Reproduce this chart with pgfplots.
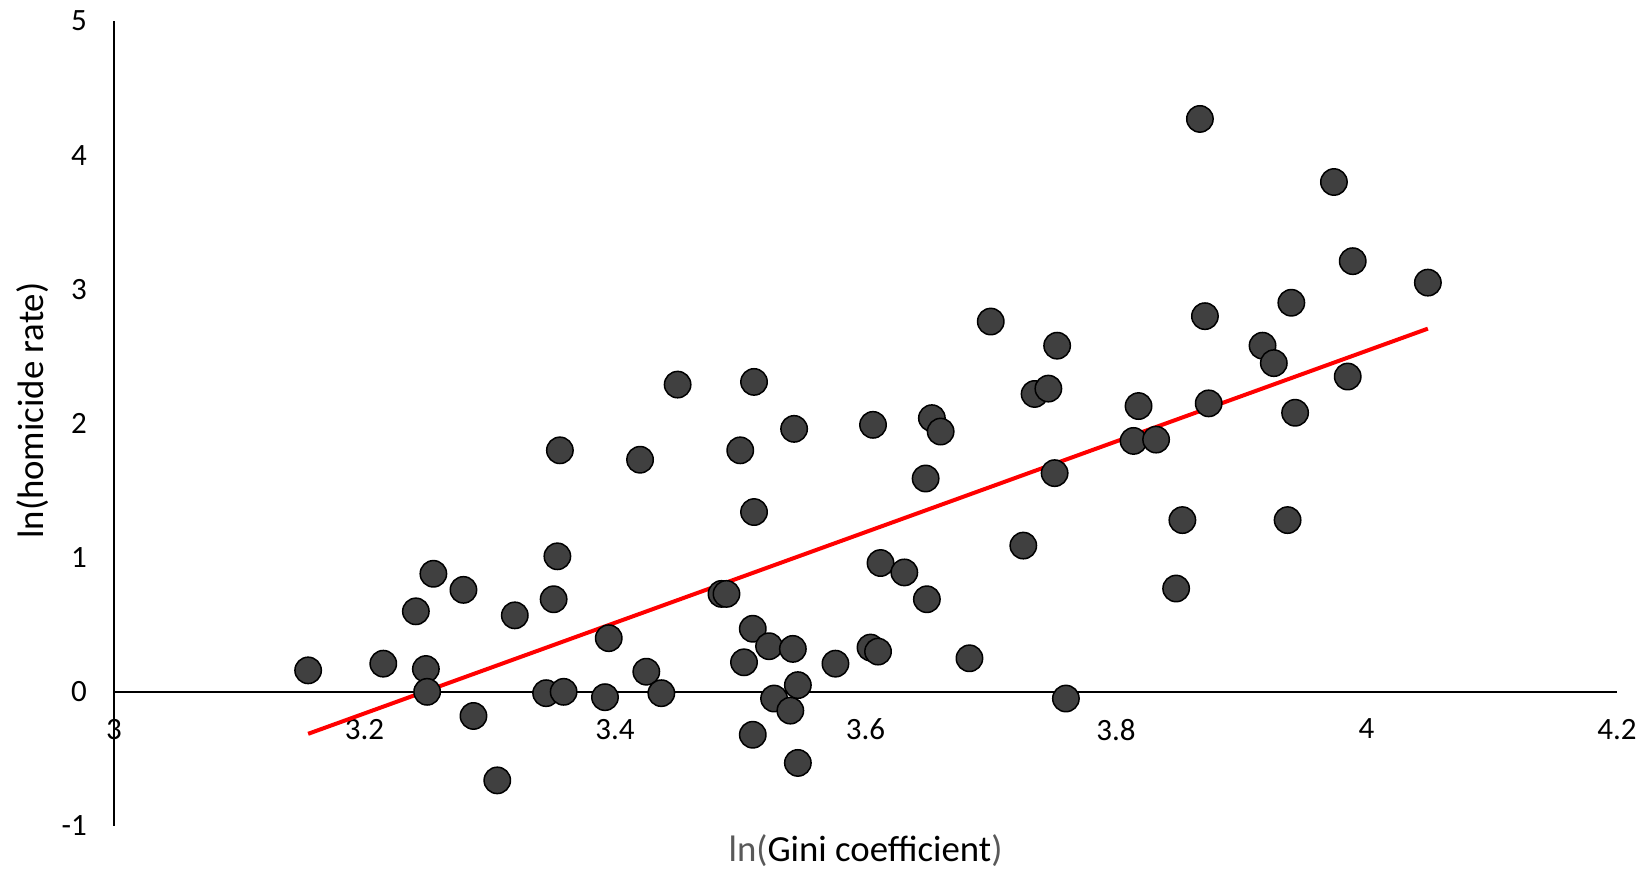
\documentclass[border=0pt]{standalone}
\usepackage{pgfplots}
\pgfplotsset{compat=1.18}
\usepackage{fontspec}
\setmainfont{Carlito}
\definecolor{dotfill}{HTML}{404040}
\definecolor{lblgrey}{HTML}{595959}
\begin{document}
\begin{tikzpicture}
\begin{axis}[
  at={(0,0)}, anchor=south west,
  scale only axis,
  width=751.5pt, height=402.5pt,
  xmin=3, xmax=4.2, ymin=-1, ymax=5,
  axis x line=middle, axis y line=left,
  axis line style={-, line width=0.9pt, black},
  hide obscured x ticks=false, hide obscured y ticks=false,
  xtick={3,3.2,3.4,3.6,3.8,4,4.2},
  ytick={-1,0,1,2,3,4,5},
  major tick length=0pt,
  /pgf/number format/assume math mode=true,
  tick label style={font=\fontsize{15.5}{18}\selectfont, black},
  xticklabel style={anchor=north, yshift=-10pt},
  yticklabel style={anchor=east, xshift=-10pt},
  xlabel={\textcolor{lblgrey}{ln(}Gini coefficient\textcolor{lblgrey}{)}},
  ylabel={ln(homicide rate)},
  xlabel style={at={(axis description cs:0.5,-0.0435)}, anchor=base, font=\fontsize{18.4}{21}\selectfont},
  ylabel style={at={(axis description cs:-0.0472,0.516)}, anchor=base, rotate=0, font=\fontsize{18.4}{21}\selectfont},
  clip=false,
]
\addplot[only marks, mark=*, mark size=6.6pt,
  mark options={fill=dotfill, draw=black, line width=0.75pt}]
  table {
x y
3.155 0.16
3.215 0.21
3.241 0.60
3.249 0.17
3.250 0.00
3.255 0.88
3.279 0.76
3.287 -0.18
3.306 -0.66
3.320 0.57
3.345 -0.01
3.351 0.69
3.354 1.01
3.356 1.80
3.359 0.00
3.392 -0.04
3.395 0.40
3.420 1.73
3.425 0.15
3.437 -0.01
3.450 2.29
3.485 0.73
3.489 0.73
3.500 1.80
3.503 0.22
3.510 0.47
3.510 -0.32
3.511 2.31
3.511 1.34
3.523 0.34
3.527 -0.05
3.540 -0.14
3.542 0.32
3.543 1.96
3.546 0.05
3.546 -0.53
3.576 0.21
3.604 0.33
3.606 1.99
3.610 0.30
3.612 0.96
3.631 0.89
3.648 1.59
3.649 0.69
3.653 2.04
3.660 1.94
3.683 0.25
3.700 2.76
3.726 1.09
3.735 2.22
3.746 2.26
3.751 1.63
3.753 2.58
3.760 -0.05
3.814 1.87
3.818 2.13
3.832 1.88
3.848 0.77
3.853 1.28
3.867 4.27
3.871 2.80
3.874 2.15
3.917 2.58
3.926 2.45
3.937 1.28
3.940 2.90
3.943 2.08
3.974 3.80
3.985 2.35
3.989 3.21
4.049 3.05
};
\addplot[red, line width=2pt, no marks] coordinates {(3.155,-0.313) (4.049,2.707)};
\end{axis}
\pgfresetboundingbox
\path (-57pt,-23pt) rectangle (768pt,413pt);
\end{tikzpicture}
\end{document}
